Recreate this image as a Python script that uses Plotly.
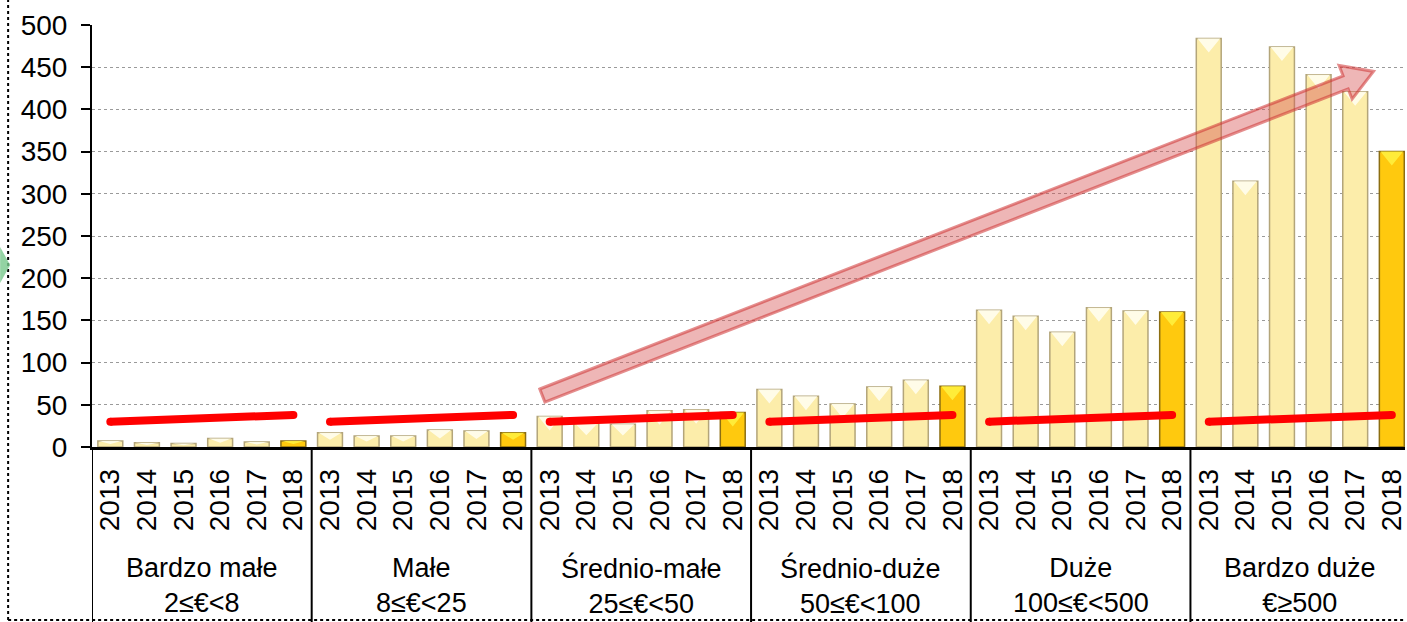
import math
import plotly.graph_objects as go

# ---------------- data ----------------
years = ["2013", "2014", "2015", "2016", "2017", "2018"]
groups = ["Bardzo małe<br>2≤€<8", "Małe<br>8≤€<25", "Średnio-małe<br>25≤€<50",
          "Średnio-duże<br>50≤€<100", "Duże<br>100≤€<500", "Bardzo duże<br>€≥500"]
bardzo_male = [7, 5, 4, 10, 6, 7]
male = [17, 13, 13, 20, 19, 17]
srednio_male = [36, 28, 27, 43, 44, 41]
srednio_duze = [68, 60, 51, 71, 79, 72]
duze = [162, 155, 136, 165, 161, 160]
bardzo_duze = [484, 315, 474, 441, 421, 350]
series = [bardzo_male, male, srednio_male, srednio_duze, duze, bardzo_duze]
trend_start = [30, 30, 30, 30, 30, 30]
trend_end = [38, 38, 38, 38, 38, 38]
arrow_tail = (11.8, 61)
arrow_head = (34.5, 445)
y_ticks = [0, 50, 100, 150, 200, 250, 300, 350, 400, 450, 500]

# ---------------- layout constants ----------------
W, H = 1407, 622
ML, MR, MT, MB = 92, 0, 25, 175
XR = [-0.5, 35.36]
YR = [0, 500]
PW, PH = W - ML - MR, H - MT - MB
px_x = PW / (XR[1] - XR[0])
px_y = PH / (YR[1] - YR[0])
FONT = "Liberation Sans Narrow, Arial Narrow, Liberation Sans, Arial"
n = len(years)

xs, ys, fills, lines, texts, last_flags = [], [], [], [], [], []
for gi, vals in enumerate(series):
    for yi, v in enumerate(vals):
        xs.append(gi * n + yi)
        ys.append(v)
        last = yi == n - 1
        last_flags.append(last)
        fills.append("#FFC90E" if last else "#FCEDAA")
        lines.append("#8C6E12" if last else "#B3A57A")
        texts.append(years[yi])

fig = go.Figure()
fig.add_trace(go.Bar(x=xs, y=ys, marker=dict(color=fills, line=dict(color=lines, width=1.5)),
                     width=0.68, hoverinfo="y"))

# bevel highlight (top triangle) on each bar, as filled scatter traces under the trend lines
for want_last, col in [(False, "rgba(255,253,235,0.95)"), (True, "rgba(255,238,60,0.95)")]:
    tx_, ty_ = [], []
    for x, v, last in zip(xs, ys, last_flags):
        if last != want_last:
            continue
        hw = 0.31
        dh = min(14 / px_y, v * 0.5)
        tx_ += [x - hw, x + hw, x, x - hw, None]
        ty_ += [v, v, v - dh, v, None]
    fig.add_trace(go.Scatter(x=tx_, y=ty_, mode="lines", fill="toself", fillcolor=col,
                             line=dict(width=0), hoverinfo="skip"))

# trend lines
for gi in range(len(series)):
    fig.add_trace(go.Scatter(x=[gi * n, gi * n + n - 1], y=[trend_start[gi], trend_end[gi]],
                             mode="lines+markers", line=dict(color="#FF0000", width=8),
                             marker=dict(color="#FF0000", size=8), hoverinfo="skip"))

# big arrow built in pixel space then converted to data
tx, ty = arrow_tail
hx, hy = arrow_head
dxp, dyp = (hx - tx) * px_x, (hy - ty) * px_y
L = math.hypot(dxp, dyp)
ux, uy = dxp / L, dyp / L
nx, ny = -uy, ux
sw, hwid, hl = 7, 18, 30
pts_px = [(nx * sw, ny * sw), (ux * (L - hl) + nx * sw, uy * (L - hl) + ny * sw),
          (ux * (L - hl) + nx * hwid, uy * (L - hl) + ny * hwid), (ux * L, uy * L),
          (ux * (L - hl) - nx * hwid, uy * (L - hl) - ny * hwid),
          (ux * (L - hl) - nx * sw, uy * (L - hl) - ny * sw), (-nx * sw, -ny * sw)]
path = "M" + " L".join(f"{tx + px / px_x},{ty + py / px_y}" for px, py in pts_px) + " Z"
fig.add_shape(type="path", xref="x", yref="y", path=path,
              fillcolor="rgba(215,80,80,0.42)", line=dict(color="rgba(205,50,50,0.55)", width=3),
              layer="above")

# group dividers
ybot = -MB / PH
for k in range(len(series) + 1):
    fig.add_shape(type="line", xref="x", yref="paper", x0=k * n - 0.5, x1=k * n - 0.5,
                  y0=0, y1=ybot, line=dict(color="black", width=2))
# group labels
for gi, g in enumerate(groups):
    fig.add_annotation(x=gi * n + (n - 1) / 2, y=-(585 - (MT + PH)) / PH,
                       xref="x", yref="paper", text=g, showarrow=False, yanchor="middle",
                       font=dict(family=FONT, size=27, color="black"))

# outer dotted border (left + bottom)
fig.add_shape(type="line", xref="paper", yref="paper", x0=(8 - ML) / PW, x1=(8 - ML) / PW,
              y0=ybot + 2 / PH, y1=1 + MT / PH, line=dict(color="black", width=2, dash="dot"))
fig.add_shape(type="line", xref="paper", yref="paper", x0=(8 - ML) / PW, x1=1,
              y0=ybot + 2 / PH, y1=ybot + 2 / PH, line=dict(color="black", width=2, dash="dot"))
# green partial arrow at left edge
gy = (H - MB - 265) / PH
fig.add_shape(type="path", xref="paper", yref="paper",
              path=f"M{-ML/PW},{gy + 18/PH} L{(10-ML)/PW},{gy} L{-ML/PW},{gy - 18/PH} Z",
              fillcolor="rgba(120,200,140,0.8)", line=dict(width=0))

fig.update_layout(
    width=W, height=H, margin=dict(l=ML, r=MR, t=MT, b=MB),
    paper_bgcolor="white", plot_bgcolor="white", showlegend=False,
    font=dict(family=FONT, size=28, color="black"),
    xaxis=dict(range=XR, tickmode="array", tickvals=xs, ticktext=texts, tickangle=-90,
               showgrid=False, zeroline=False, showline=True, linecolor="black", linewidth=2.5,
               ticks="", ticklabelstandoff=8, ticklabeloverflow="allow",
               tickfont=dict(family=FONT, size=28)),
    yaxis=dict(range=YR, tickmode="array", tickvals=y_ticks, showgrid=True,
               gridcolor="#9a9a9a", griddash="dot", gridwidth=1, zeroline=False,
               showline=True, linecolor="black", linewidth=2, ticks="outside", ticklen=9,
               tickwidth=2, tickcolor="black", ticklabelstandoff=8,
               tickfont=dict(family=FONT, size=28)),
)
fig.write_html("out.html", post_script="document.body.style.margin='0';",
               config={"displayModeBar": False})
